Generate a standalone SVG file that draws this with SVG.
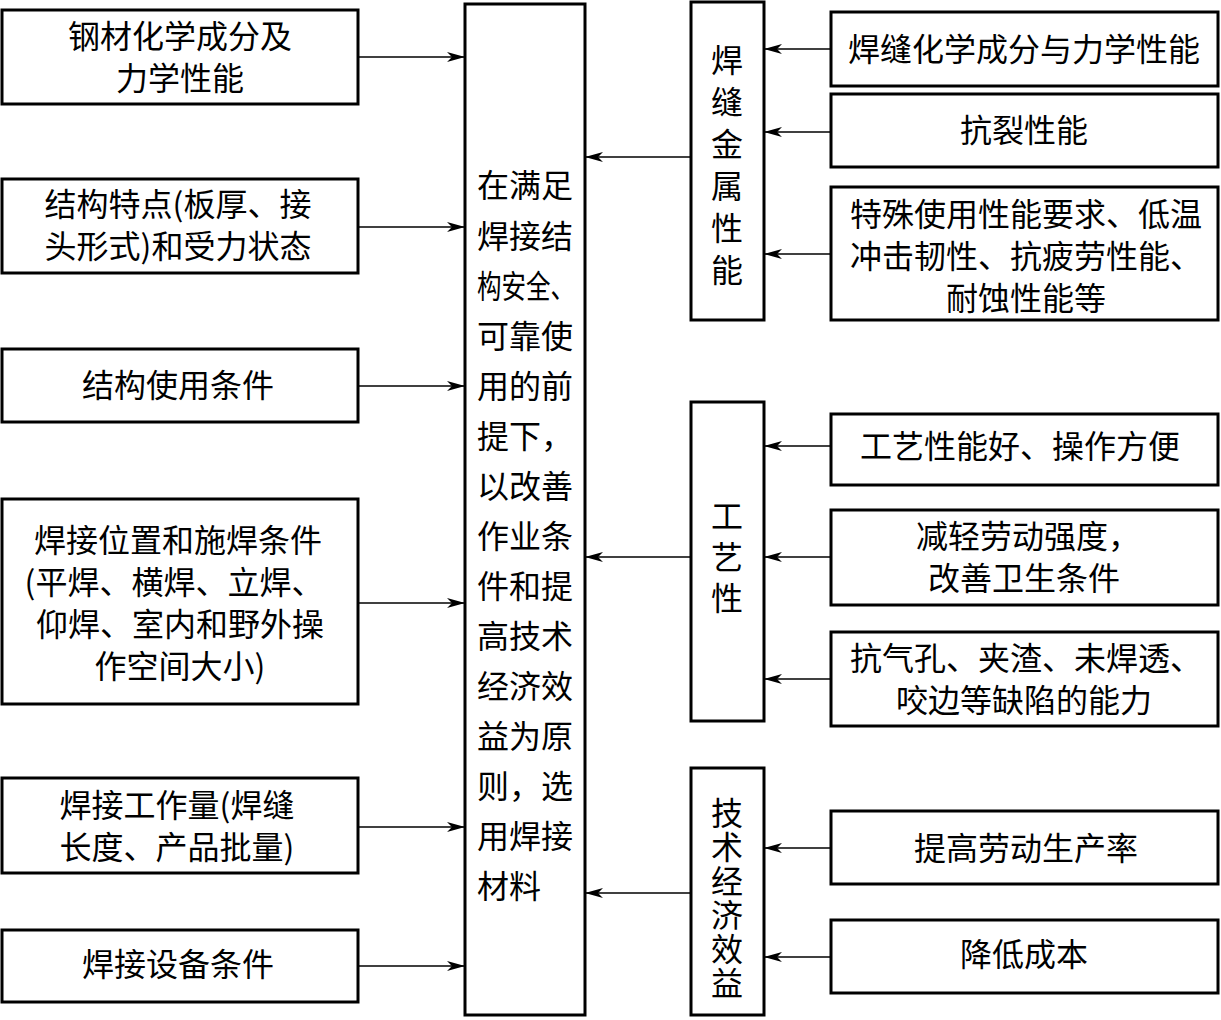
<svg xmlns="http://www.w3.org/2000/svg" width="1221" height="1020" viewBox="0 0 1221 1020">
<style>
.box{fill:#fff;stroke:#000;stroke-width:3}
.t{font-family:"Noto Sans CJK SC","Noto Sans CJK JP",sans-serif;font-size:32px;fill:#000;text-anchor:middle}
.l{text-anchor:start}
.v{text-anchor:start;writing-mode:vertical-rl}
.c line{stroke:#000;stroke-width:1.6;marker-end:url(#ah)}
</style>
<defs>
<marker id="ah" viewBox="0 0 18 10" refX="18" refY="5" markerWidth="18" markerHeight="10" markerUnits="userSpaceOnUse" orient="auto">
<path d="M0,0 L18,5 L0,10 L5,5 Z" fill="#000"/>
</marker>
</defs>
<rect width="1221" height="1020" fill="#fff"/>
<g class="c" id="connectors">
<line x1="358" y1="57" x2="465" y2="57"/>
<line x1="358" y1="227" x2="465" y2="227"/>
<line x1="358" y1="386" x2="465" y2="386"/>
<line x1="358" y1="603" x2="465" y2="603"/>
<line x1="358" y1="827" x2="465" y2="827"/>
<line x1="358" y1="966" x2="465" y2="966"/>
<line x1="691" y1="157" x2="585" y2="157"/>
<line x1="691" y1="557" x2="585" y2="557"/>
<line x1="691" y1="893" x2="585" y2="893"/>
<line x1="831" y1="49" x2="764" y2="49"/>
<line x1="831" y1="132" x2="764" y2="132"/>
<line x1="831" y1="254" x2="764" y2="254"/>
<line x1="831" y1="446" x2="764" y2="446"/>
<line x1="831" y1="557" x2="764" y2="557"/>
<line x1="831" y1="679" x2="764" y2="679"/>
<line x1="831" y1="848" x2="764" y2="848"/>
<line x1="831" y1="957" x2="764" y2="957"/>
</g>
<g id="n1"><rect class="box" x="2" y="10" width="356" height="94"/>
<text class="t" x="180" y="48">钢材化学成分及<tspan x="180" dy="42">力学性能</tspan></text></g>
<g id="n2"><rect class="box" x="2" y="179" width="356" height="94"/>
<text class="t" x="178" y="216">结构特点(板厚、接<tspan x="178" dy="42">头形式)和受力状态</tspan></text></g>
<g id="n3"><rect class="box" x="2" y="349" width="356" height="73"/>
<text class="t" x="178" y="397">结构使用条件</text></g>
<g id="n4"><rect class="box" x="2" y="499" width="356" height="205"/>
<text class="t" x="178" y="552">焊接位置和施焊条件<tspan x="174" dy="42">(平焊、横焊、立焊、</tspan><tspan x="180" dy="42">仰焊、室内和野外操</tspan><tspan x="180" dy="42">作空间大小)</tspan></text></g>
<g id="n5"><rect class="box" x="2" y="778" width="356" height="95"/>
<text class="t" x="177" y="817">焊接工作量(焊缝<tspan x="177" dy="42">长度、产品批量)</tspan></text></g>
<g id="n6"><rect class="box" x="2" y="930" width="356" height="72"/>
<text class="t" x="178" y="976">焊接设备条件</text></g>
<g id="center"><rect class="box" x="465" y="4" width="120" height="1011"/>
<text class="t l" x="477" y="197">在满足</text>
<text class="t l" x="477" y="248">焊接结</text>
<text class="t l" x="477" y="298" textLength="98" lengthAdjust="spacingAndGlyphs">构安全、</text>
<text class="t l" x="477" y="348">可靠使</text>
<text class="t l" x="477" y="398">用的前</text>
<text class="t l" x="477" y="448">提下，</text>
<text class="t l" x="477" y="498">以改善</text>
<text class="t l" x="477" y="548">作业条</text>
<text class="t l" x="477" y="598">件和提</text>
<text class="t l" x="477" y="648">高技术</text>
<text class="t l" x="477" y="698">经济效</text>
<text class="t l" x="477" y="748">益为原</text>
<text class="t l" x="477" y="798">则，选</text>
<text class="t l" x="477" y="848">用焊接</text>
<text class="t l" x="477" y="898">材料</text></g>
<g id="A"><rect class="box" x="691" y="2" width="73" height="318"/>
<text class="t v" x="727" y="44" letter-spacing="10">焊缝金属性能</text></g>
<g id="B"><rect class="box" x="691" y="402" width="73" height="319"/>
<text class="t v" x="727" y="500" letter-spacing="9">工艺性</text></g>
<g id="C"><rect class="box" x="691" y="768" width="73" height="247"/>
<text class="t v" x="727" y="797" letter-spacing="2">技术经济效益</text></g>
<g id="r1"><rect class="box" x="831" y="12" width="387" height="74"/>
<text class="t" x="1024" y="61">焊缝化学成分与力学性能</text></g>
<g id="r2"><rect class="box" x="831" y="94" width="387" height="73"/>
<text class="t" x="1024" y="142">抗裂性能</text></g>
<g id="r3"><rect class="box" x="831" y="187" width="387" height="133"/>
<text class="t" x="1026" y="226">特殊使用性能要求、低温<tspan x="1026" dy="42">冲击韧性、抗疲劳性能、</tspan><tspan x="1026" dy="42">耐蚀性能等</tspan></text></g>
<g id="r4"><rect class="box" x="831" y="414" width="387" height="71"/>
<text class="t" x="1020" y="458">工艺性能好、操作方便</text></g>
<g id="r5"><rect class="box" x="831" y="510" width="387" height="95"/>
<text class="t" x="1028" y="548">减轻劳动强度，<tspan x="1024" dy="42">改善卫生条件</tspan></text></g>
<g id="r6"><rect class="box" x="831" y="632" width="387" height="94"/>
<text class="t" x="1026" y="670">抗气孔、夹渣、未焊透、<tspan x="1024" dy="42">咬边等缺陷的能力</tspan></text></g>
<g id="r7"><rect class="box" x="831" y="811" width="387" height="73"/>
<text class="t" x="1026" y="860">提高劳动生产率</text></g>
<g id="r8"><rect class="box" x="831" y="920" width="387" height="73"/>
<text class="t" x="1024" y="966">降低成本</text></g>
</svg>
